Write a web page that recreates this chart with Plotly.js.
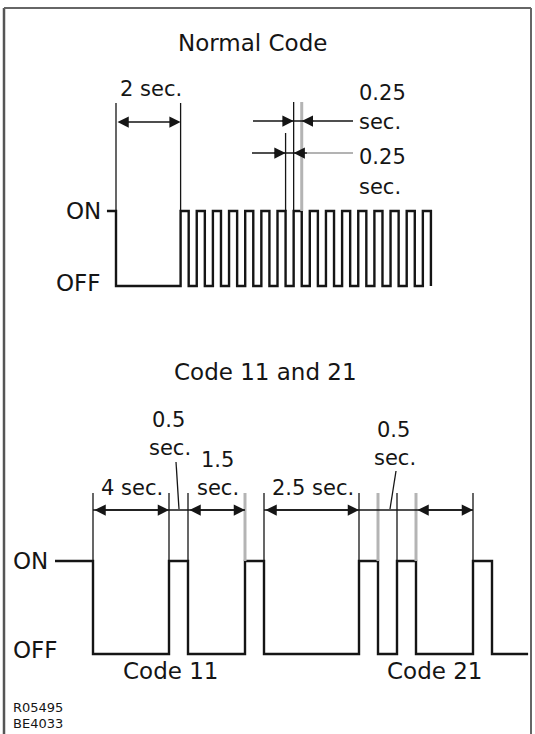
<!DOCTYPE html>
<html><head><meta charset="utf-8">
<script src="https://cdn.plot.ly/plotly-3.0.1.min.js"></script>
<style>html,body{margin:0;padding:0;background:#fff}#chart{width:535px;height:734px}</style>
</head><body><div id="chart"></div>
<script>
// ---------- data ----------
// Normal code: edge times (s) and level (1 = ON, 0 = OFF), drawn with step shape
const normalT = [-0.28, 0, 2, 2.25, 2.5, 2.75, 3, 3.25, 3.5, 3.75, 4, 4.25, 4.5, 4.75,
  5, 5.25, 5.5, 5.75, 6, 6.25, 6.5, 6.75, 7, 7.25, 7.5, 7.75, 8, 8.25, 8.5, 8.75, 9, 9.25, 9.5, 9.75];
const normalLevel = [1, 0, 1, 0, 1, 0, 1, 0, 1, 0, 1, 0, 1, 0,
  1, 0, 1, 0, 1, 0, 1, 0, 1, 0, 1, 0, 1, 0, 1, 0, 1, 0, 1, 0];
// Code 11 and 21: edge positions along the drawing (the 4 s gap is drawn compressed)
const codeT = [-1, 0, 2, 2.5, 4, 4.5, 7, 7.5, 8, 8.5, 10, 10.5, 11.45];
const codeLevel = [1, 0, 1, 0, 1, 0, 1, 0, 1, 0, 1, 0, 0];
// dimensioned spans (indices into codeT)
const codeSpans = [[1, 2], [3, 4], [5, 6], [9, 10]];
const levelLabels = ['ON', 'OFF'];
const titles = ['Normal Code', 'Code 11 and 21'];
const codeNames = ['Code 11', 'Code 21'];
const refCodes = ['R05495', 'BE4033'];

// ---------- layout geometry ----------
const W = 535, H = 734, SPLIT = 330;
const T0 = 116, TS = 32.3, TOFF = 286, TUNIT = 75;
const B0 = 93, BS = 38, BOFF = 654, BUNIT = 93;
const tx = px => (px - T0) / TS, ty = py => (TOFF - py) / TUNIT;
const bx = px => (px - B0) / BS, by = py => (BOFF - py) / BUNIT;
const INK = '#151515', GREY = '#b4b4b4', FONT = 'DejaVu Sans';

const shapes = [], annotations = [];
function line(xr, yr, x0, y0, x1, y1, color, width) {
  shapes.push({type: 'line', xref: xr, yref: yr, x0, y0, x1, y1,
    line: {color: color || INK, width: width || 1.3}});
}
function txt(text, xr, yr, x, y, size, xa) {
  annotations.push({text, xref: xr, yref: yr, x, y, showarrow: false,
    xanchor: xa || 'center', yanchor: 'middle', font: {family: FONT, size, color: INK}});
}
function arrow(xr, yr, x, y, ax, ay, both) {
  annotations.push({text: '', xref: xr, yref: yr, x, y, ax, ay, axref: xr, ayref: yr,
    showarrow: true, arrowhead: 2, arrowsize: 1.5, arrowwidth: 1.5, arrowcolor: INK,
    startarrowhead: 2, startarrowsize: 1.5,
    arrowside: both ? 'end+start' : 'end', standoff: 0, startstandoff: 0});
}

// frame
line('paper', 'paper', 4 / W, 0, 4 / W, 1 - 8 / H, '#555', 2.5);
line('paper', 'paper', 4 / W, 1 - 8 / H, 531 / W, 1 - 8 / H, '#666', 2);
line('paper', 'paper', 531 / W, 1 - 8 / H, 531 / W, 0, '#666', 2);

// ---------- top: Normal Code ----------
txt(titles[0], 'paper', 'paper', 252 / W, 1 - 43 / H, 23);
txt(levelLabels[0], 'x', 'y', tx(103), ty(211), 23, 'right');
txt(levelLabels[1], 'x', 'y', tx(103), ty(283), 23, 'right');
// 2 sec. dimension
const n0 = normalT[1], n2 = normalT[2];
line('x', 'y', n0, ty(103), n0, 1);
line('x', 'y', n2, ty(103), n2, 1);
arrow('x', 'y', n2, ty(122), n0, ty(122), true);
txt('2 sec.', 'x', 'y', tx(151), ty(89), 21);
// 0.25 sec. dimensions (pulse width and gap)
const fallA = normalT[15], rise = normalT[16], fallB = normalT[17];
line('x', 'y', rise, ty(102), rise, 1);
line('x', 'y', fallB, ty(102), fallB, 1, GREY, 3);
line('x', 'y', fallA, ty(133), fallA, 1);
line('x', 'y', tx(253), ty(121), tx(353), ty(121));
line('x', 'y', tx(252), ty(153), tx(307), ty(153));
line('x', 'y', tx(307), ty(153), tx(353), ty(153), '#9a9a9a', 1.3);
const d = 13 / TS;
arrow('x', 'y', rise, ty(121), rise - d, ty(121));
arrow('x', 'y', fallB, ty(121), fallB + d, ty(121));
arrow('x', 'y', fallA, ty(153), fallA - d, ty(153));
arrow('x', 'y', rise, ty(153), rise + d, ty(153));
txt('0.25', 'x', 'y', tx(357), ty(93), 21, 'left');
txt('sec.', 'x', 'y', tx(357), ty(122), 21, 'left');
txt('0.25', 'x', 'y', tx(357), ty(157), 21, 'left');
txt('sec.', 'x', 'y', tx(357), ty(187), 21, 'left');

// ---------- bottom: Code 11 and 21 ----------
txt(titles[1], 'x2', 'y2', bx(265), by(372), 23);
txt(levelLabels[0], 'x2', 'y2', bx(11), by(561), 23, 'left');
txt(levelLabels[1], 'x2', 'y2', bx(11), by(650), 23, 'left');
const greyEdges = [4, 7.5, 8.5];
codeT.slice(1, 11).forEach(t => {
  const g = greyEdges.indexOf(t) >= 0;
  line('x2', 'y2', t, by(493), t, 1, g ? GREY : INK, g ? 3 : 1.3);
});
const dimY = by(510);
line('x2', 'y2', codeT[1], dimY, codeT[4], dimY);
line('x2', 'y2', codeT[5], dimY, codeT[10], dimY);
codeSpans.forEach(s => arrow('x2', 'y2', codeT[s[1]], dimY, codeT[s[0]], dimY, true));
txt('4 sec.', 'x2', 'y2', bx(132), by(488), 21);
txt('0.5', 'x2', 'y2', bx(168), by(420), 21);
txt('sec.', 'x2', 'y2', bx(170), by(448), 21);
line('x2', 'y2', bx(176), by(462), bx(179), by(509));
txt('1.5', 'x2', 'y2', bx(217), by(460), 21);
txt('sec.', 'x2', 'y2', bx(218), by(488), 21);
txt('2.5 sec.', 'x2', 'y2', bx(313), by(488), 21);
txt('0.5', 'x2', 'y2', bx(393), by(430), 21);
txt('sec.', 'x2', 'y2', bx(395), by(458), 21);
line('x2', 'y2', bx(396), by(471), bx(390), by(509));
txt(codeNames[0], 'x2', 'y2', bx(170), by(671), 23);
txt(codeNames[1], 'x2', 'y2', bx(434), by(671), 23);
txt(refCodes[0], 'paper', 'paper', 11 / W, 1 - 707 / H, 13, 'left');
txt(refCodes[1], 'paper', 'paper', 11 / W, 1 - 723 / H, 13, 'left');

const traces = [
  {x: normalT, y: normalLevel, xaxis: 'x', yaxis: 'y', mode: 'lines',
   line: {shape: 'hv', color: INK, width: 2.4}, hoverinfo: 'skip'},
  {x: codeT, y: codeLevel, xaxis: 'x2', yaxis: 'y2', mode: 'lines',
   line: {shape: 'hv', color: INK, width: 2.4}, hoverinfo: 'skip'}
];
const ax = {visible: false, fixedrange: true};
const layout = {
  width: W, height: H, margin: {l: 0, r: 0, t: 0, b: 0},
  paper_bgcolor: '#fff', plot_bgcolor: 'rgba(0,0,0,0)', showlegend: false,
  xaxis: Object.assign({domain: [0, 1], range: [tx(0), tx(W)], anchor: 'y'}, ax),
  yaxis: Object.assign({domain: [1 - SPLIT / H, 1], range: [ty(SPLIT), ty(0)], anchor: 'x'}, ax),
  xaxis2: Object.assign({domain: [0, 1], range: [bx(0), bx(W)], anchor: 'y2'}, ax),
  yaxis2: Object.assign({domain: [0, 1 - SPLIT / H], range: [by(H), by(SPLIT)], anchor: 'x2'}, ax),
  shapes, annotations
};
Plotly.newPlot('chart', traces, layout, {displayModeBar: false, staticPlot: true});
</script></body></html>
